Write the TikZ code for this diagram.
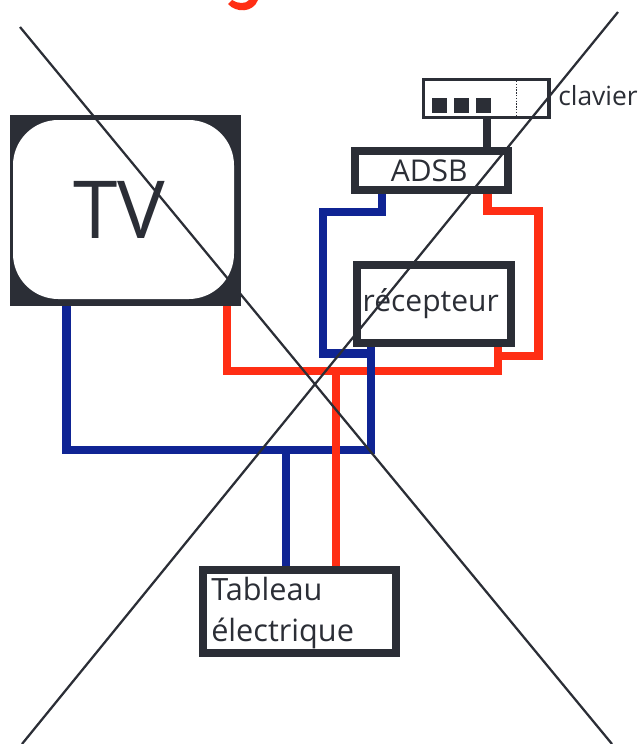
\documentclass[tikz,border=0pt]{standalone}
\usepackage{fontspec}
\setmainfont{Open Sans}
\usetikzlibrary{positioning}
\definecolor{boxdark}{HTML}{2B2E36}
\definecolor{wireblue}{HTML}{0F2494}
\definecolor{wirered}{HTML}{FF2E14}
\def\u{.75pt}
\tikzset{
  box/.style      = {shape=rectangle, draw=boxdark, fill=white,
                     line width=6pt, inner sep=0pt,
                     text=boxdark, align=center},
  smallbox/.style = {box, line width=2.8pt},
  key/.style      = {shape=rectangle, fill=boxdark, inner sep=0pt,
                     minimum width=15*\u, minimum height=15*\u},
  label/.style    = {text=boxdark, inner sep=0pt},
  bluewire/.style = {draw=wireblue, line width=6.4pt, line join=miter},
  redwire/.style  = {draw=wirered, line width=6.4pt, line join=miter},
  darkwire/.style = {draw=boxdark, line width=5.6pt},
  crossline/.style = {draw=boxdark, line width=1.7pt}
}
\begin{document}
\begin{tikzpicture}[x=.75pt, y=-.75pt]
    \useasboundingbox (0,0) rectangle (638,744);
    % remains of the title
    \fill [wirered] (228,4) .. controls (236,13) and (253,13) .. (258,0)
        -- (249,0) .. controls (246,4) and (238,4) .. (232,0) -- cycle;
    % boxes
    \node [shape=rectangle, fill=boxdark, inner sep=0pt, minimum width=231*\u, minimum height=191*\u] (tv) at (125,210.5) {};
    \node [shape=rectangle, rounded corners=34pt, fill=white, inner sep=0pt, minimum width=221*\u, minimum height=179*\u,
        text=boxdark, font=\fontsize{60pt}{60pt}\selectfont] (screen) at (123.5,209.5) {\hspace*{-6pt}TV};
    \node [smallbox, minimum width=125.5*\u, minimum height=38*\u] (keyboard) at (486.25,98.5) {};
    \node [key] (keya) at (439.5,105.5) {};
    \node [key, right=6.5*\u of keya] (keyb) {};
    \node [key, right=6.5*\u of keyb] (keyc) {};
    \node [label, anchor=base west, font=\fontsize{19.8pt}{19.8pt}\selectfont] (clavier) at (558,105.5) {clavier};
    \node [box, minimum width=152.5*\u, minimum height=39*\u, font=\fontsize{22.5pt}{22.5pt}\selectfont] (adsb) at (431.25,170.5) {\hspace*{-3pt}ADSB};
    \node [box, minimum width=154.5*\u, minimum height=78*\u, font=\fontsize{22.5pt}{22.5pt}\selectfont] (receiver) at (433.75,304) {\hspace*{-4.5pt}récepteur};
    \node [box, minimum width=193.5*\u, minimum height=82.5*\u] (panel) at (299.25,611.25) {};
    \node [label, anchor=base west, font=\fontsize{23pt}{23pt}\selectfont] (tableau) at (211,600) {Tableau};
    \node [label, anchor=base west, font=\fontsize{23pt}{23pt}\selectfont] (electrique) at (211,641.5) {électrique};
    % dotted edge of the keyboard
    \coordinate (dota) at (516.5,81);
    \coordinate (dotb) at (516.5,115);
    \draw [draw=boxdark, line width=1.1pt, densely dotted] (dota) -- (dotb);
    % wires
    \draw [darkwire] (keyboard.south -| 487,0) -- (adsb.north -| 487,0);
    \draw [redwire] (tv.south -| 227,0) |- (498,371) -- (receiver.south -| 498,0);
    \draw [redwire] (adsb.south -| 487.5,0) |- (538.5,211) |- (498,356);
    \draw [bluewire] (tv.south -| 66.5,0) |- (371,450) -- (receiver.south -| 371,0);
    \draw [bluewire] (adsb.south -| 382,0) |- (323,212) |- (371,353.5);
    \draw [bluewire] (286,450) -- (panel.north -| 286,0);
    \draw [redwire] (336,371) -- (panel.north -| 336,0);
    % the two crossing lines
    \coordinate (crossa) at (20,27);
    \coordinate (crossb) at (612,744);
    \coordinate (crossc) at (618,12);
    \coordinate (crossd) at (22,744);
    \draw [crossline] (crossa) -- (crossb);
    \draw [crossline] (crossc) -- (crossd);
\end{tikzpicture}
\end{document}
